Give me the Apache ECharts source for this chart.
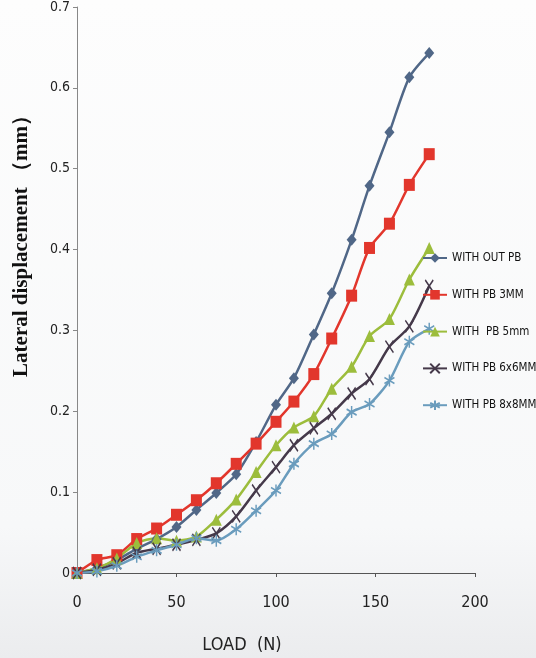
<!DOCTYPE html>
<html>
<head>
<meta charset="utf-8">
<script src="https://cdn.jsdelivr.net/npm/echarts@6/dist/echarts.min.js"></script>
<style>
  html, body { margin: 0; padding: 0; background: #f8f9fa; }
  #chart { width: 536px; height: 658px; }
</style>
</head>
<body>
<div id="chart"></div>
<script>
// Load steps (N) shared by all five test series
const loads = [0, 10, 20, 30, 40, 50, 60, 70, 80, 90, 100, 109, 119, 128, 138, 147, 157, 167, 177];

// Lateral displacement (mm) for each plate configuration
const withoutPB = [0, 0.006, 0.016, 0.03, 0.042, 0.057, 0.078, 0.099, 0.122, 0.162, 0.208, 0.241, 0.295, 0.346, 0.412, 0.479, 0.545, 0.613, 0.643];
const pb3mm     = [0, 0.016, 0.022, 0.042, 0.055, 0.072, 0.09, 0.111, 0.135, 0.16, 0.187, 0.212, 0.246, 0.29, 0.343, 0.402, 0.432, 0.48, 0.518];
const pb5mm     = [0, 0.006, 0.018, 0.037, 0.043, 0.04, 0.045, 0.066, 0.091, 0.125, 0.158, 0.18, 0.194, 0.228, 0.255, 0.293, 0.314, 0.363, 0.402];
const pb6x6mm   = [0, 0.004, 0.012, 0.025, 0.03, 0.035, 0.041, 0.049, 0.07, 0.102, 0.131, 0.158, 0.179, 0.197, 0.222, 0.24, 0.28, 0.305, 0.355];
const pb8x8mm   = [0, 0.002, 0.009, 0.02, 0.028, 0.035, 0.043, 0.04, 0.054, 0.077, 0.102, 0.135, 0.16, 0.172, 0.199, 0.209, 0.238, 0.286, 0.302];

const seriesNames = ['WITH OUT PB', 'WITH PB 3MM', 'WITH  PB 5mm', 'WITH PB 6x6MM', 'WITH PB 8x8MM'];
const xTickLabels = ['0', '50', '100', '150', '200'];
const yTickLabels = ['0', '0.1', '0.2', '0.3', '0.4', '0.5', '0.6', '0.7'];

const narrow = "'DejaVu Sans Condensed', 'Liberation Sans Narrow', sans-serif";

function pairs(ys) { return loads.map((x, i) => [x, ys[i]]); }

const styles = [
  { color: '#506787', symbol: 'diamond', symbolSize: [10, 12] },
  { color: '#e2362c', symbol: 'rect', symbolSize: [11, 12] },
  { color: '#9cbd3c', symbol: 'triangle', symbolSize: [11, 12] },
  { color: '#45394a', symbol: 'path://M0,0L10,14M10,0L0,14', symbolSize: [8, 12], stroke: true },
  { color: '#6a9cbd', symbol: 'path://M5,0L5,12M0,3L10,9M0,9L10,3', symbolSize: [10, 12], stroke: true }
];
const values = [withoutPB, pb3mm, pb5mm, pb6x6mm, pb8x8mm];

const series = values.map((ys, i) => {
  const s = styles[i];
  return {
    name: seriesNames[i],
    type: 'line',
    data: pairs(ys),
    smooth: 0.25,
    symbol: s.symbol,
    symbolSize: s.symbolSize,
    showAllSymbol: true,
    lineStyle: { color: s.color, width: 2.5 },
    itemStyle: s.stroke
      ? { color: s.color, borderColor: s.color, borderWidth: 1.6 }
      : { color: s.color },
    emphasis: { disabled: true },
    animation: false
  };
});

const chart = echarts.init(document.getElementById('chart'));
chart.setOption({
  backgroundColor: new echarts.graphic.LinearGradient(0, 0, 0, 1, [
    { offset: 0, color: '#fdfdfd' },
    { offset: 0.8, color: '#f7f8f9' },
    { offset: 1, color: '#ebecee' }
  ]),
  animation: false,
  grid: { left: 77, right: 61, top: 4, bottom: 85, containLabel: false },
  legend: {
    orient: 'vertical',
    left: 422,
    top: 252,
    padding: 0,
    itemWidth: 24,
    itemHeight: 12,
    itemGap: 24.8,
    textStyle: { fontFamily: narrow, fontSize: 11.5, color: '#111' },
    data: seriesNames
  },
  xAxis: {
    type: 'value',
    min: 0, max: 200, interval: 50,
    axisLine: { show: true, lineStyle: { color: '#555', width: 1 } },
    axisTick: { show: true, inside: false, length: 4, lineStyle: { color: '#555' } },
    splitLine: { show: false },
    axisLabel: {
      margin: 22,
      fontFamily: narrow, fontSize: 16, color: '#222',
      formatter: v => xTickLabels[Math.round(v / 50)]
    }
  },
  yAxis: {
    type: 'value',
    min: 0, max: 0.7, interval: 0.1,
    axisLine: { show: true, lineStyle: { color: '#888', width: 1 } },
    axisTick: { show: true, inside: false, length: 4, lineStyle: { color: '#888' } },
    splitLine: { show: false },
    axisLabel: {
      margin: 7,
      fontFamily: narrow, fontSize: 14, color: '#222',
      formatter: v => yTickLabels[Math.round(v * 10)]
    }
  },
  graphic: [
    {
      type: 'text',
      x: 22, y: 241,
      rotation: Math.PI / 2,
      style: {
        text: 'Lateral displacement （mm）',
        font: "bold 21px 'Liberation Serif', 'DejaVu Serif', serif",
        fill: '#111',
        align: 'center',
        verticalAlign: 'middle'
      }
    },
    {
      type: 'text',
      x: 242, y: 645,
      style: {
        text: 'LOAD  (N)',
        font: "18px " + narrow,
        fill: '#222',
        align: 'center',
        verticalAlign: 'middle'
      }
    }
  ],
  series: series
});
</script>
</body>
</html>
